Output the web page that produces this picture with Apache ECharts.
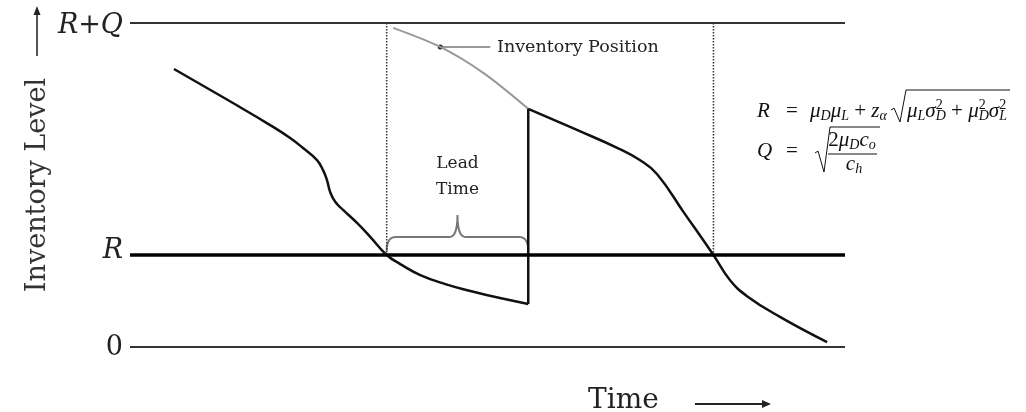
<!DOCTYPE html>
<html><head><meta charset="utf-8">
<script src="https://cdn.jsdelivr.net/npm/echarts@6/dist/echarts.min.js"></script>
<style>html,body{margin:0;padding:0;background:#fff}#c{width:1026px;height:412px}</style>
</head><body><div id="c"></div>
<script>
// ---- data (time units 0..100, inventory units 0 = empty, 100 = R+Q) ----
const levelLabels = ['0', 'R', 'R+Q'];
const levelValues = [0, 28.4, 100];
const cycle1 = [[6.15,85.8],[14.4,75.3],[19.6,68.5],[22.4,64.5],[24.2,61.4],[26.15,57.7],[27.0,54.6],[27.55,51.5],[28.0,47.8],[28.7,44.8],[29.8,42.3],[31.75,38.3],[33.6,34.0],[35.9,28.4],[37.8,25.6],[40.6,22.2],[44.1,19.4],[47.6,17.3],[51.75,15.1],[55.7,13.3]];
const replenish = [[55.7,13.3],[55.7,73.5]];
const cycle2 = [[55.7,73.5],[62.5,67.0],[68.5,61.1],[71.3,57.7],[73.7,53.4],[77.5,41.4],[81.6,28.4],[83.9,20.7],[86.3,15.7],[90.9,9.3],[97.5,1.5]];
const invPosition = [[36.8,98.5],[43.4,92.6],[49.6,84.3],[55.7,73.5]];
const reorderTimes = [35.9, 81.6];
const leadTime = [35.9, 55.7];
const invPosPointer = [43.4, 92.6];

const SERIF = 'DejaVu Serif';
const chart = echarts.init(document.getElementById('c'), null, {renderer: 'canvas'});

const levelStyles = [
  {color: '#333', width: 2, italic: false, dy: 1},
  {color: '#000', width: 3.5, italic: true, dy: -4},
  {color: '#333', width: 2, italic: true, dy: 3}
];

const series = [
  {
    type: 'line', data: [], silent: true,
    markLine: {
      silent: true, symbol: ['none', 'none'], animation: false,
      data: levelValues.map((v, i) => ({
        yAxis: v,
        lineStyle: {color: levelStyles[i].color, width: levelStyles[i].width, type: 'solid'},
        label: {show: true, position: 'start', formatter: levelLabels[i], distance: 7,
          offset: [0, levelStyles[i].dy],
          fontFamily: SERIF, fontSize: 27, color: '#222',
          fontStyle: levelStyles[i].italic ? 'italic' : 'normal'}
      }))
    }
  }
];
reorderTimes.forEach(t => series.push({
  type: 'line', silent: true, showSymbol: false,
  data: [[t, levelValues[2]], [t, levelValues[1]]],
  lineStyle: {color: '#333', width: 1.5, type: 'dotted'}
}));
series.push({type: 'line', silent: true, showSymbol: false, smooth: 0.3, data: invPosition,
  lineStyle: {color: '#999', width: 2}});
series.push({type: 'line', silent: true, showSymbol: false, smooth: 0.45, data: cycle1,
  lineStyle: {color: '#111', width: 2.5}});
series.push({type: 'line', silent: true, showSymbol: false, data: replenish,
  lineStyle: {color: '#111', width: 2.5}});
series.push({type: 'line', silent: true, showSymbol: false, smooth: 0.45, data: cycle2,
  lineStyle: {color: '#111', width: 2.5}});

chart.setOption({
  animation: false,
  backgroundColor: '#fff',
  grid: {left: 130, right: 181, top: 23, bottom: 65, containLabel: false, outerBoundsMode: 'none'},
  xAxis: {type: 'value', min: 0, max: 100, show: false},
  yAxis: {type: 'value', min: 0, max: 100,
    axisLine: {show: false}, axisTick: {show: false}, axisLabel: {show: false}, splitLine: {show: false},
    name: 'Inventory Level', nameLocation: 'middle', nameRotate: 90, nameGap: 79,
    nameTextStyle: {fontFamily: SERIF, fontSize: 27, color: '#333'}},
  series: series
});

// ---- annotations ----
const toPx = p => chart.convertToPixel({gridIndex: 0}, p);
function quad(p0, p1, p2, n) {
  const out = [];
  for (let k = 0; k <= n; k++) {
    const t = k / n, u = 1 - t;
    out.push([u*u*p0[0] + 2*u*t*p1[0] + t*t*p2[0], u*u*p0[1] + 2*u*t*p1[1] + t*t*p2[1]]);
  }
  return out;
}
const [xa, yR] = toPx([leadTime[0], levelValues[1]]);
const [xb] = toPx([leadTime[1], levelValues[1]]);
const xm = (xa + xb) / 2, yb = yR - 4, yh = yR - 18, yt = yR - 40;
const brace = [].concat(
  quad([xa, yb], [xa, yh], [xa + 9, yh], 8),
  [[xm - 8, yh]],
  quad([xm - 8, yh], [xm, yh], [xm, yt], 8),
  quad([xm, yt], [xm, yh], [xm + 8, yh], 8),
  [[xb - 9, yh]],
  quad([xb - 9, yh], [xb, yh], [xb, yb], 8)
);
const ptr = toPx(invPosPointer);

const FM = '"Liberation Serif"';
const rich = {
  i: {font: 'italic 21px ' + FM, fontFamily: 'Liberation Serif', fontStyle: 'italic', fontSize: 21, lineHeight: 22, fill: '#111', color: '#111'},
  n: {font: '21px ' + FM, fontFamily: 'Liberation Serif', fontSize: 21, lineHeight: 22, fill: '#111', color: '#111'},
  b: {font: 'italic 14px ' + FM, fontFamily: 'Liberation Serif', fontStyle: 'italic', fontSize: 14, lineHeight: 14, padding: [11, 0, 0, 0], fill: '#111', color: '#111'},
  p: {font: '14px ' + FM, fontFamily: 'Liberation Serif', fontSize: 14, lineHeight: 14, padding: [0, 0, 12, 0], width: 0, fill: '#111', color: '#111'}
};
function ftext(x, y, str, align) {
  return {type: 'text', x: x, y: y, silent: true,
    style: {text: str, rich: rich, fill: '#111', textAlign: align || 'left', align: align || 'left',
      textVerticalAlign: 'middle', verticalAlign: 'middle', font: '21px ' + FM}};
}
function plain(x, y, str, size, align) {
  return {type: 'text', x: x, y: y, silent: true,
    style: {text: str, fill: '#222', font: size + 'px "' + SERIF + '"',
      textAlign: align, align: align, textVerticalAlign: 'middle', verticalAlign: 'middle'}};
}
function pline(pts, color, w) {
  return {type: 'polyline', silent: true, shape: {points: pts}, style: {stroke: color, lineWidth: w, fill: null}};
}

chart.setOption({
  graphic: [
    pline(brace, '#777', 2),
    pline([ptr, [ptr[0] + 50, ptr[1]]], '#999', 2),
    {type: 'circle', silent: true, shape: {cx: ptr[0], cy: ptr[1], r: 2.5}, style: {fill: '#222'}},
    plain(497, 47, 'Inventory Position', 17.5, 'left'),
    {type: 'text', x: xm, y: 177, silent: true,
      style: {text: 'Lead\nTime', fill: '#222', font: '17px "' + SERIF + '"', lineHeight: 26,
        textAlign: 'center', align: 'center', textVerticalAlign: 'middle', verticalAlign: 'middle'}},
    // y arrow
    pline([[37, 56], [37, 13]], '#555', 2),
    {type: 'polygon', silent: true, shape: {points: [[37, 6], [33.5, 15], [40.5, 15]]}, style: {fill: '#222'}},
    // Time label and arrow
    plain(588, 401, 'Time', 28, 'left'),
    pline([[695, 404], [763, 404]], '#222', 2),
    {type: 'polygon', silent: true, shape: {points: [[771, 404], [762, 400], [762, 408]]}, style: {fill: '#222'}},
    // formula line 1
    ftext(757, 111, '{i|R}'),
    ftext(786, 111, '{n|=}'),
    ftext(810, 111, '{i|μ}{b|D}{i|μ}{b|L}{n| + }{i|z}{b|α}'),
    pline([[891, 110], [894, 108], [900, 122], [906, 90], [1010, 90]], '#111', 1),
    ftext(907, 111, '{i|μ}{b|L}{i|σ}{p|2}{b|D}{n| + }{i|μ}{p|2}{b|D}{i|σ}{p|2}{b|L}'),
    // formula line 2
    ftext(757, 151, '{i|Q}'),
    ftext(786, 151, '{n|=}'),
    pline([[815, 153], [818, 151], [824, 172], [830, 127], [880, 127]], '#111', 1),
    ftext(852, 140, '{n|2}{i|μ}{b|D}{i|c}{b|o}', 'center'),
    pline([[828, 154], [877, 154]], '#111', 1),
    ftext(854, 164, '{i|c}{b|h}', 'center')
  ]
});
</script></body></html>
